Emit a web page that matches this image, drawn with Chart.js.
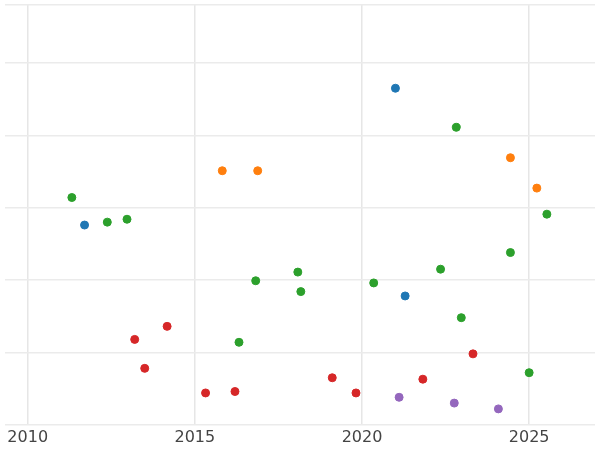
<!DOCTYPE html>
<html>
<head>
<script src="https://cdn.jsdelivr.net/npm/chart.js@4"></script>
<style>body{margin:0;background:#fff}#wrap{width:600px;height:450px}</style>
</head>
<body>
<div id="wrap"><canvas id="c"></canvas></div>
<script>
const xTicks = [2010, 2015, 2020, 2025];
const blue = [[2021.0, 4.65], [2011.7, 2.76], [2021.29, 1.78]];
const orange = [[2015.82, 3.51], [2016.88, 3.51], [2024.44, 3.69], [2025.23, 3.27]];
const green = [[2011.32, 3.14], [2012.38, 2.80], [2012.97, 2.84], [2022.82, 4.11], [2025.53, 2.91],
  [2024.44, 2.38], [2016.82, 1.99], [2018.08, 2.11], [2018.17, 1.84], [2020.35, 1.96],
  [2022.35, 2.15], [2022.97, 1.48], [2016.32, 1.14], [2025.0, 0.72]];
const red = [[2013.2, 1.18], [2014.17, 1.36], [2013.5, 0.78], [2015.32, 0.44], [2016.2, 0.46],
  [2019.11, 0.65], [2019.82, 0.44], [2021.82, 0.63], [2023.32, 0.98]];
const purple = [[2021.11, 0.38], [2022.76, 0.30], [2024.08, 0.22]];

function ds(arr, color) {
  return { data: arr.map(p => ({ x: p[0], y: p[1] })), backgroundColor: color, borderColor: color, pointRadius: 4, pointHoverRadius: 4 };
}

new Chart(document.getElementById("c"), {
  type: 'scatter',
  data: {
    datasets: [ds(blue, "#1f77b4"), ds(orange, "#ff7f0e"), ds(green, "#2ca02c"), ds(red, "#d62728"), ds(purple, "#9467bd")]
  },
  options: {
    animation: false,
    maintainAspectRatio: false,
    layout: { padding: 0 },
    plugins: { legend: { display: false }, tooltip: { enabled: false } },
    scales: {
      x: {
        type: 'linear', min: 2009.32, max: 2026.97,
        afterBuildTicks: ax => { ax.ticks = xTicks.map(v => ({ value: v })); },
        ticks: { color: "#444", font: { size: 16, family: "DejaVu Sans" }, callback: v => String(v), maxRotation: 0 },
        grid: { color: "#e6e6e6", lineWidth: 1.5, drawTicks: false },
        border: { display: false }
      },
      y: {
        min: 0, max: 5.8,
        ticks: { display: false, stepSize: 1 },
        grid: { color: "#ebebeb", lineWidth: 1.5, drawTicks: false },
        border: { display: false }
      }
    }
  }
});
</script>
</body>
</html>
